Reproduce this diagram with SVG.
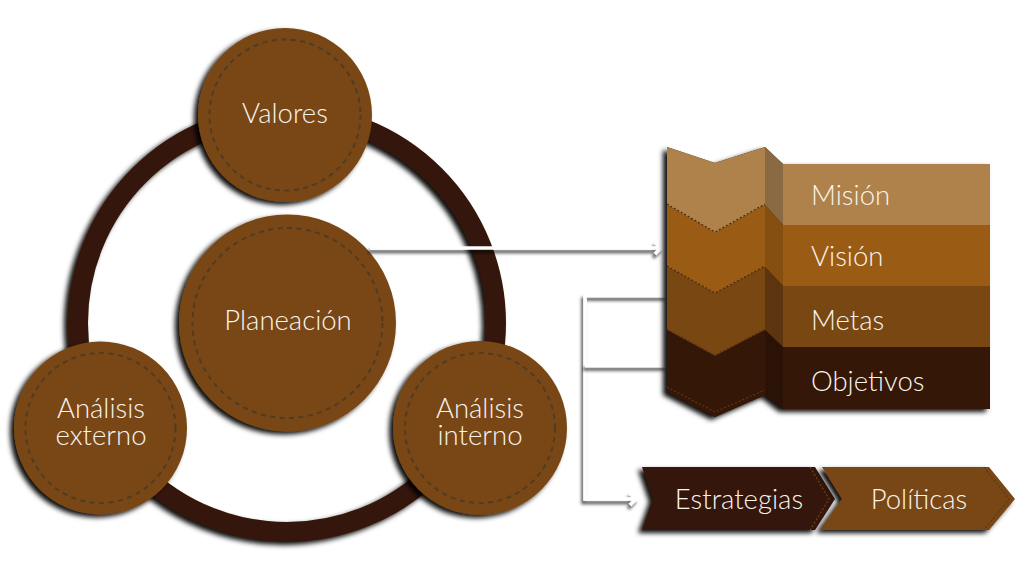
<svg xmlns="http://www.w3.org/2000/svg" width="1024" height="575" viewBox="0 0 1024 575">
<style>
text{font-family:"Lato Light",Lato,"Open Sans",sans-serif;font-weight:300;fill:#f8f4ee;font-size:27.500px;text-anchor:middle}
.l{text-anchor:start}
.c{fill:#794712;filter:url(#s)}
.d{fill:none;stroke:#4f3c22;stroke-width:2;stroke-dasharray:5 4.500}
.st{fill:none;stroke:#4a2a0c;stroke-width:1.200;stroke-dasharray:2 2}
.st2{fill:none;stroke:#6b4418;stroke-width:1.200;stroke-dasharray:2 2}
.st3{fill:none;stroke:#5e3610;stroke-width:1.200;stroke-dasharray:2 2}
.w{fill:none;stroke:#fff;stroke-width:3.500}
</style>
<defs>
<filter id="s" filterUnits="userSpaceOnUse" x="0" y="0" width="1024" height="575"><feDropShadow dx="-4" dy="3" stdDeviation="2.500" flood-color="#000" flood-opacity=".95"/></filter>
<filter id="ls" filterUnits="userSpaceOnUse" x="0" y="0" width="1024" height="575"><feDropShadow dx="-2" dy="3.500" stdDeviation="1.500" flood-color="#000" flood-opacity=".65"/></filter>
<marker id="a" markerUnits="userSpaceOnUse" markerWidth="12" markerHeight="16" refX="9" refY="8" orient="auto"><path d="M3 2L9 8L3 14" fill="none" stroke="#fff" stroke-width="3.500"/></marker>
</defs>
<rect width="1024" height="575" fill="#fff"/>
<g id="ring"><circle cx="287" cy="323" r="209" fill="none" stroke="#351707" stroke-width="20" filter="url(#s)"/></g>
<g id="valores"><circle class="c" cx="285" cy="115" r="87"/><circle class="d" cx="285" cy="115" r="75.500"/><text x="285" y="123">Valores</text></g>
<g id="planeacion"><circle class="c" cx="287.500" cy="323" r="108.500"/><circle class="d" cx="287.500" cy="323" r="95"/><text x="288" y="330">Planeación</text></g>
<g id="analisis-externo"><circle class="c" cx="100.500" cy="428" r="86.500"/><circle class="d" cx="100.500" cy="428" r="75"/><text x="101" y="418">Análisis</text><text x="101" y="445">externo</text></g>
<g id="analisis-interno"><circle class="c" cx="480" cy="428" r="87"/><circle class="d" cx="480" cy="428" r="75"/><text x="480" y="418">Análisis</text><text x="480" y="445">interno</text></g>
<g id="connectors">
<path class="w" filter="url(#ls)" d="M370 248H661" marker-end="url(#a)"/>
<path class="w" filter="url(#ls)" d="M667 295.500H585V499H636" marker-end="url(#a)"/>
<path class="w" filter="url(#ls)" d="M585 365.500H667"/>
</g>
<g id="banner">
<path filter="url(#s)" fill="#351707" d="M667 147L715 163L765 147L783 164H990V409H783L765 395L715 417L667 392Z"/>
<g id="mision"><path fill="#ae824a" d="M783 164H990V225H783Z"/><path fill="#8a6a42" d="M765 147L783 164V225L765 205Z"/><path fill="#ae824a" d="M667 147L715 163L765 147V205L715 233L667 205Z"/><text class="l" x="811" y="205">Misión</text></g>
<g id="vision"><path fill="#9a5c14" d="M783 225H990V286H783Z"/><path fill="#85500f" d="M765 205L783 225V286L765 267Z"/><path fill="#9a5c14" d="M667 205L715 233L765 205V267L715 294L667 267Z"/><path class="st" d="M667 204L715 232L765 204"/><text class="l" x="811" y="266">Visión</text></g>
<g id="metas"><path fill="#794712" d="M783 286H990V347H783Z"/><path fill="#5c3510" d="M765 267L783 286V347L765 330Z"/><path fill="#794712" d="M667 267L715 294L765 267V330L715 356L667 330Z"/><path class="st" d="M667 266L715 293L765 266"/><text class="l" x="811" y="330">Metas</text></g>
<g id="objetivos"><path fill="#351707" d="M783 347H990V409H783Z"/><path fill="#2a1206" d="M765 330L783 347V409L765 395Z"/><path fill="#351707" d="M667 330L715 356L765 330V395L715 417L667 392Z"/><path class="st3" d="M667 329L715 355L765 329"/><path class="st3" d="M667 387L715 412L765 390"/><text class="l" x="811" y="391">Objetivos</text></g>
</g>
<g id="estrategias"><path filter="url(#s)" fill="#351707" d="M642 467H815L835 499L815 530H642L653 499Z"/><path class="st2" d="M810 467L829 499L810 530"/><text x="739" y="509">Estrategias</text></g>
<g id="politicas"><path filter="url(#s)" fill="#794712" d="M822 467H989L1015 499L989 530H820L842 499Z"/><path class="st" d="M984 467L1009 499L984 530" opacity=".5"/><text x="919" y="509">Políticas</text></g>
</svg>
